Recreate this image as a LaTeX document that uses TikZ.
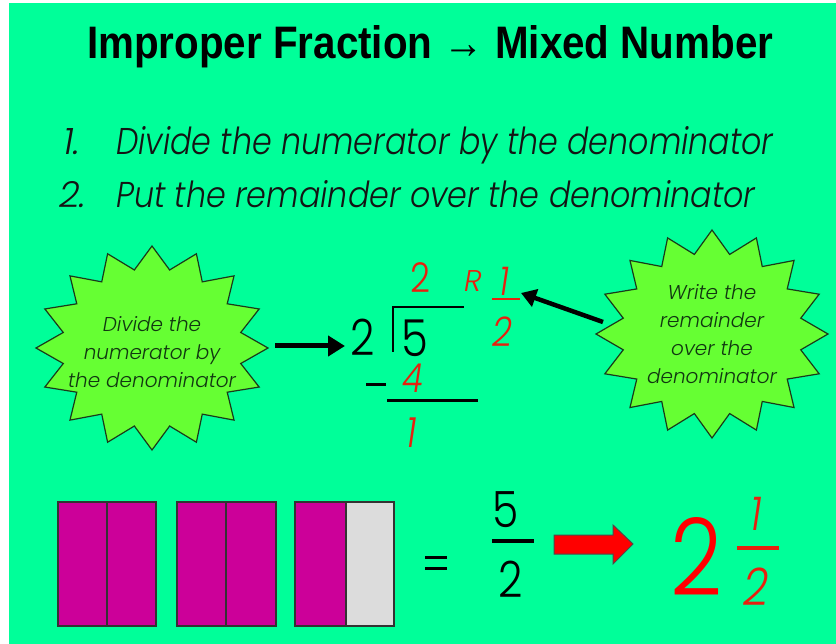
\documentclass[tikz,border=0pt]{standalone}
\usepackage{fontspec}
\setmainfont{Poppins}[UprightFont=* Light, ItalicFont=* Light Italic, BoldFont=* Bold]
\newfontfamily\titlefont{Liberation Sans}
\usepackage{graphicx}
\usetikzlibrary{arrows.meta}
\definecolor{bg}{HTML}{00FF99}
\definecolor{starfill}{HTML}{66FF33}
\definecolor{starline}{HTML}{1A3A1A}
\definecolor{mag}{HTML}{CC0099}
\definecolor{lgrey}{HTML}{DCDCDC}
\definecolor{redtxt}{HTML}{E8200F}
\definecolor{txt}{HTML}{141414}
\newcommand\burst[4]{%
  \draw[starstyle] plot[samples=33,domain=0:32,variable=\t]
    ({#1+((mod(\t,2)<0.5)?1:0.78)*#3*cos(90+\t*11.25)},
     {#2-((mod(\t,2)<0.5)?1:0.78)*#4*sin(90+\t*11.25)}) -- cycle;}
\tikzset{
  starstyle/.style={fill=starfill,draw=starline,line width=1.2pt,line join=miter},
  startext/.style={font=\fontsize{20}{28}\selectfont\itshape,text=txt!85!green,align=center,inner sep=0pt},
  bodytext/.style={inner sep=0pt,anchor=base west,text=txt},
  dig/.style={inner sep=0pt,anchor=base},
  blackarrow/.style={line width=5pt,-{Triangle[length=17pt,width=20pt]}},
  part/.style={draw=black!80,line width=1.2pt},
  rule/.style={line width=#1,line cap=butt},
}
\begin{document}
\begin{tikzpicture}[x=1pt,y=-1pt]
\useasboundingbox (0,0) rectangle (836,644);
\fill[white] (0,0) rectangle (836,644);
\fill[bg] (9,3) rectangle (836,644);
% title
\node[inner sep=0pt,anchor=base west] (title) at (87,59)
  {\resizebox{686pt}{33pt}{\titlefont\bfseries Improper Fraction → Mixed Number}};
% steps
\node[bodytext] (n1) at (63,155) {\resizebox{!}{26pt}{\itshape 1.}};
\node[bodytext] (s1) at (116,155) {\resizebox{657pt}{28pt}{\itshape Divide the numerator by the denominator}};
\node[bodytext] (n2) at (59,208) {\resizebox{!}{26pt}{\itshape 2.}};
\node[bodytext] (s2) at (116,208) {\resizebox{639pt}{27pt}{\itshape Put the remainder over the denominator}};
% stars
\burst{152}{348}{116}{102}
\node[startext] (lstar) at (152,352) {Divide the\\numerator by\\the denominator};
\burst{712}{334}{116}{104}
\node[startext] (rstar) at (712,334) {Write the\\remainder\\over the\\denominator};
% long division
\node[dig,font=\fontsize{50}{50}\selectfont] (dvs) at (363,356) {\scalebox{0.85}[1]{2}};
\node[dig,font=\fontsize{51}{51}\selectfont] (dvd) at (415,357) {\scalebox{0.85}[1]{5}};
\draw[line width=2.5pt] (393,352) -- (393,307) -- (464,307);
\node[dig,font=\fontsize{41}{41}\selectfont,text=redtxt] (quo) at (420,293) {\scalebox{0.85}[1]{2}};
\node[dig,font=\fontsize{30}{30}\selectfont\itshape,text=redtxt] (rr) at (473,292) {R};
\node[dig,font=\fontsize{40}{40}\selectfont\itshape,text=redtxt] (rnum) at (504,296) {\scalebox{0.85}[1]{1}};
\draw[rule=2.5pt,redtxt] (492,299) -- (520,299);
\node[dig,font=\fontsize{41}{41}\selectfont\itshape,text=redtxt] (rden) at (502,347) {\scalebox{0.85}[1]{2}};
\draw[rule=3pt] (366,385) -- (386,385);
\node[dig,font=\fontsize{40}{40}\selectfont\itshape,text=redtxt] (sub) at (413,393) {\scalebox{0.85}[1]{4}};
\draw[rule=3pt] (387,401) -- (478,401);
\node[dig,font=\fontsize{42}{42}\selectfont\itshape,text=redtxt] (rem) at (412,447) {\scalebox{0.85}[1]{1}};
% arrows
\coordinate (a1s) at (275,346);
\coordinate (a1e) at (345,346);
\draw[blackarrow] (a1s) -- (a1e);
\coordinate (a2s) at (603,322);
\coordinate (a2e) at (521,293);
\draw[line width=4.5pt,-{Triangle[length=15pt,width=18pt]}] (a2s) -- (a2e);
% bars
\fill[mag] (58,502) rectangle (156,626);
\draw[part] (58,502) rectangle (156,626) (107,502) -- (107,626);
\fill[mag] (177,502) rectangle (276,626);
\draw[part] (177,502) rectangle (276,626) (226,502) -- (226,626);
\fill[mag] (295,502) rectangle (346,626);
\fill[lgrey] (346,502) rectangle (394,626);
\draw[part] (295,502) rectangle (394,626) (346,502) -- (346,626);
% equals and fraction
\draw[rule=3pt] (425,557) -- (447,557) (425,568) -- (447,568);
\node[dig,font=\fontsize{50}{50}\selectfont] (f5) at (506,527) {\scalebox{0.85}[1]{5}};
\draw[rule=4.5pt] (492,541) -- (534,541);
\node[dig,font=\fontsize{50}{50}\selectfont] (f2) at (511,597) {\scalebox{0.85}[1]{2}};
% red block arrow
\draw[fill=red,draw=black!70,line width=1pt,line join=miter] (554,535) -- (613,535) -- (613,525) -- (633,544) -- (613,564) -- (613,554) -- (554,554) -- cycle;
% mixed number
\node[dig,font=\fontsize{107}{107}\selectfont,text=red] (big2) at (697,595) {\scalebox{0.85}[1]{2}};
\node[dig,font=\fontsize{47}{47}\selectfont\itshape,text=redtxt] (m1) at (756,530) {\scalebox{0.85}[1]{1}};
\draw[rule=4pt,redtxt] (737,548) -- (779,548);
\node[dig,font=\fontsize{52}{52}\selectfont\itshape,text=redtxt] (m2) at (756,605) {\scalebox{0.85}[1]{2}};
\end{tikzpicture}
\end{document}
